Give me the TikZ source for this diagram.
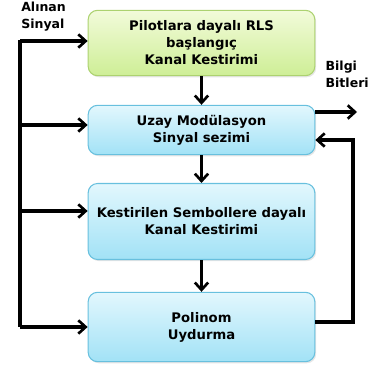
\documentclass[tikz,border=0pt]{standalone}
\usepackage{fontspec}
\setmainfont{DejaVu Sans}
\usetikzlibrary{arrows.meta,shadows}

\definecolor{gtop}{RGB}{242,251,218}
\definecolor{gbot}{RGB}{206,238,150}
\definecolor{gline}{RGB}{172,210,112}
\definecolor{btop}{RGB}{226,247,253}
\definecolor{bbot}{RGB}{162,226,246}
\definecolor{bline}{RGB}{104,192,222}

\begin{document}
\begin{tikzpicture}[x=0.75pt, y=-0.75pt,
		box/.style = {rectangle, rounded corners=7pt, line width=0.8pt, minimum width=170pt, align=center,
			font=\fontsize{9.9}{12.8}\selectfont\bfseries,
			drop shadow={opacity=0.2, shadow xshift=1pt, shadow yshift=-1.2pt}},
		gbox/.style = {box, draw=gline, top color=gtop, bottom color=gbot},
		bbox/.style = {box, draw=bline, top color=btop, bottom color=bbot},
		lbl/.style = {align=left, font=\fontsize{9.4}{12.5}\selectfont\bfseries, inner sep=0pt},
		r/.style = {-{Straight Barb[length=5.5pt, width=10pt, line width=2pt]}, line width=2.3pt},
		l/.style = {line width=2.3pt}
		]
		\useasboundingbox (0,0) rectangle (371,367);
		
		%Nodes
		\node[gbox, minimum height=49pt]	(b1)	at	(201.5, 43)		{Pilotlara dayalı RLS\\ başlangıç\\ Kanal Kestirimi};
		\node[bbox, minimum height=37pt]	(b2)	at	(201.5, 130)	{Uzay Modülasyon\\ Sinyal sezimi};
		\node[bbox, minimum height=57pt]	(b3)	at	(201.5, 221.5)	{Kestirilen Sembollere dayalı\\ Kanal Kestirimi};
		\node[bbox, minimum height=52pt]	(b4)	at	(201.5, 327)	{Polinom\\ Uydurma};
		\node[lbl, anchor=north west]	(in)	at	(21, 2)		{Alınan\\Sinyal};
		\node[lbl, anchor=north east]	(bits)	at	(369, 61)	{Bilgi\phantom{ri}\\Bitleri};
		
		%Coordinates
		\coordinate	(i1)	at	(20, 41);
		\coordinate	(i2)	at	(20, 125);
		\coordinate	(i3)	at	(20, 211);
		\coordinate	(i4)	at	(20, 327);
		\coordinate	(o)		at	(357, 112);
		\coordinate	(f1)	at	(353, 322);
		\coordinate	(f2)	at	(353, 140);
		
		%Lines
		\draw[l]	([yshift=1.1pt]i1)	--	(i4);
		\draw[r]	(i1)	--	(i1 -| b1.west);
		\draw[r]	(i2)	--	(i2 -| b2.west);
		\draw[r]	(i3)	--	(i3 -| b3.west);
		\draw[r]	(i4)	--	(i4 -| b4.west);
		\draw[r]	(b1.south)	--	(b2.north);
		\draw[r]	(b2.south)	--	(b3.north);
		\draw[r]	(b3.south)	--	(b4.north);
		\draw[r]	(o -| b2.east)	--	(o);
		\draw[r]	(f1 -| b4.east)	--	(f1)	--	(f2)	--	(f2 -| b2.east);
	\end{tikzpicture}
\end{document}
